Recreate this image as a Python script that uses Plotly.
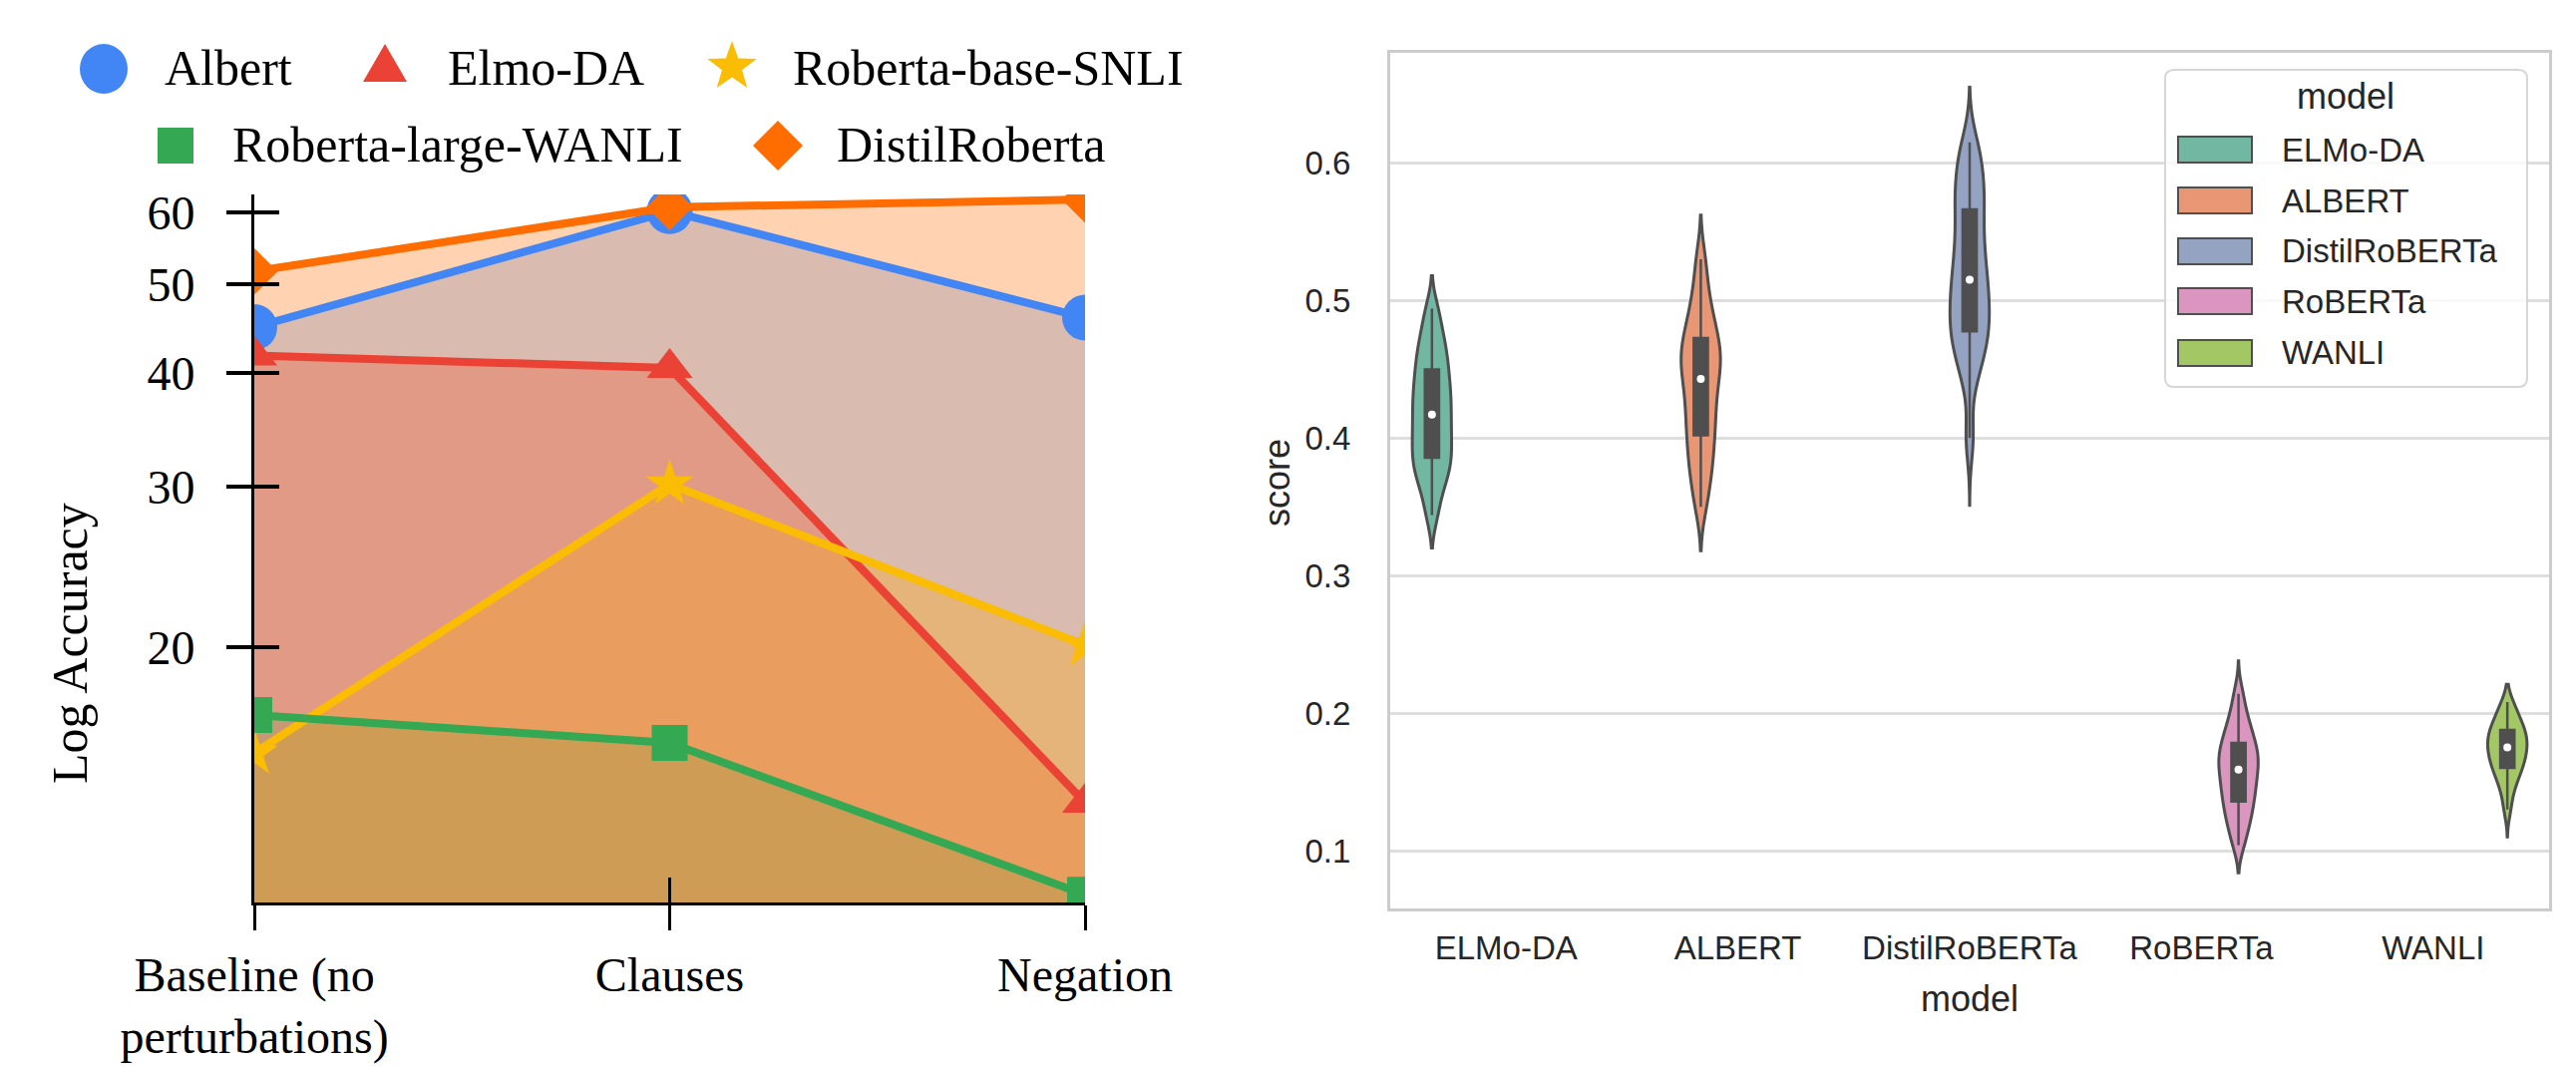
import numpy as np
import plotly.graph_objects as go

# ---------------- data: left chart ----------------
stages = ["Baseline (no<br>perturbations)", "Clauses", "Negation"]
left_models = ["Albert", "Elmo-DA", "Roberta-base-SNLI", "Roberta-large-WANLI", "DistilRoberta"]
albert = [44.9, 60.2, 46.0]
elmo_da = [41.8, 40.5, 13.5]
roberta_base_snli = [15.3, 30.2, 20.1]
roberta_large_wanli = [16.85, 15.7, 10.7]
distilroberta = [51.7, 60.8, 62.0]
left_series = [albert, elmo_da, roberta_base_snli, roberta_large_wanli, distilroberta]
left_yticks = [20, 30, 40, 50, 60]

# ---------------- data: right chart ----------------
right_models = ["ELMo-DA", "ALBERT", "DistilRoBERTa", "RoBERTa", "WANLI"]
scores_elmo_da = [0.344, 0.360, 0.369, 0.376, 0.382, 0.387, 0.393, 0.399, 0.405, 0.411, 0.417,
                  0.423, 0.429, 0.435, 0.441, 0.448, 0.455, 0.462, 0.470, 0.480, 0.494]
scores_albert = [0.350, 0.366, 0.377, 0.386, 0.396, 0.404, 0.412, 0.420, 0.428, 0.436, 0.443,
                 0.449, 0.455, 0.460, 0.465, 0.471, 0.478, 0.486, 0.496, 0.510, 0.530]
scores_distilroberta = [0.400, 0.442, 0.456, 0.466, 0.473, 0.479, 0.486, 0.494, 0.501, 0.508, 0.515,
                        0.524, 0.533, 0.542, 0.553, 0.564, 0.573, 0.582, 0.592, 0.603, 0.615]
scores_roberta = [0.104, 0.114, 0.121, 0.127, 0.132, 0.137, 0.142, 0.146, 0.150, 0.155, 0.159,
                  0.162, 0.166, 0.170, 0.173, 0.177, 0.182, 0.187, 0.193, 0.201, 0.214]
scores_wanli = [0.130, 0.142, 0.149, 0.154, 0.158, 0.161, 0.164, 0.167, 0.170, 0.172, 0.175,
                0.177, 0.180, 0.182, 0.185, 0.187, 0.190, 0.193, 0.197, 0.202, 0.208]
right_series = [scores_elmo_da, scores_albert, scores_distilroberta, scores_roberta, scores_wanli]
right_yticks = [0.1, 0.2, 0.3, 0.4, 0.5, 0.6]

# ---------------- styles ----------------
W, H = 2583, 1070
left_colors = ["#4285F4", "#EA4335", "#FBBC04", "#34A853", "#FF6D01"]
left_symbols = ["circle", "triangle-up", "star", "square", "diamond"]
left_msizes = [46, 40, 36, 36, 36]
fill_alphas = [0.28, 0.3, 0.3, 0.22, 0.3]
violin_colors = ["#71b7a1", "#e99675", "#95a3c3", "#db96c0", "#a2c764"]
violin_bw = [0.012, 0.015, 0.017, 0.010, 0.0085]
violin_span = [[0.320, 0.518], [0.318, 0.562], [0.351, 0.655], [0.084, 0.238], [0.110, 0.221]]
violin_line = "#4f4f4f"
dark_text = "#262626"
SERIF = "Liberation Serif"
SANS = "Liberation Sans"


def px2x(px):
    return px / W


def py2y(py):
    return 1 - py / H


def rgba(hexc, a):
    h = hexc.lstrip("#")
    return "rgba(%d,%d,%d,%.3f)" % (int(h[0:2], 16), int(h[2:4], 16), int(h[4:6], 16), a)


fig = go.Figure()

# fills (base axes)
for name, vals, col, fa in zip(left_models, left_series, left_colors, fill_alphas):
    fig.add_trace(go.Scatter(x=stages, y=vals, mode="none", fill="tozeroy",
                             fillcolor=rgba(col, fa), showlegend=False,
                             hoverinfo="skip", xaxis="x", yaxis="y"))
# lines + markers (overlay axes, drawn above all fills)
for name, vals, col, sym, ms in zip(left_models, left_series, left_colors, left_symbols, left_msizes):
    fig.add_trace(go.Scatter(x=stages, y=vals, mode="lines+markers", name=name,
                             line=dict(color=col, width=8),
                             marker=dict(symbol=sym, size=ms, color=col, line=dict(width=0)),
                             showlegend=False, xaxis="x3", yaxis="y3"))

# violins (seaborn-style hue dodge: 5 slots in 0.8 width)
n = len(right_models)
slot = 0.8 / n
for j, (name, vals, col, bw, sp) in enumerate(zip(right_models, right_series, violin_colors,
                                                  violin_bw, violin_span)):
    pos = j - 0.4 + slot / 2 + j * slot
    fig.add_trace(go.Violin(y=vals, x0=pos, name=name, width=slot * 1.06, scalemode="width",
                            bandwidth=bw, spanmode="manual", span=sp, points=False,
                            fillcolor=col, line=dict(color=violin_line, width=3),
                            box=dict(visible=True, width=0.36, fillcolor=violin_line,
                                     line=dict(color=violin_line, width=2.5)),
                            meanline=dict(visible=False), showlegend=False,
                            xaxis="x2", yaxis="y2"))
    fig.add_trace(go.Scatter(x=[pos], y=[float(np.median(vals))], mode="markers",
                             marker=dict(color="white", size=8), showlegend=False,
                             hoverinfo="skip", xaxis="x2", yaxis="y2"))

left_dom_x = [px2x(255), px2x(1088)]
left_dom_y = [py2y(905), py2y(195)]
left_range = [float(np.log10(10.49)), float(np.log10(62.8))]

axis_common = dict(showgrid=False, zeroline=False, automargin=False)
fig.update_layout(
    width=W, height=H, margin=dict(l=0, r=0, t=0, b=0, pad=0, autoexpand=False),
    paper_bgcolor="white", plot_bgcolor="white",
    font=dict(family=SERIF, color="black"),
    violinmode="overlay",
    showlegend=False,
    xaxis=dict(domain=left_dom_x, anchor="y", type="category", range=[0, 2],
               ticks="outside", ticklen=25, tickwidth=3, tickcolor="black",
               showline=True, linewidth=3, linecolor="black",
               tickfont=dict(family=SERIF, size=48, color="black"), ticklabelstandoff=3,
               **axis_common),
    yaxis=dict(domain=left_dom_y, anchor="x", type="log", range=left_range,
               tickvals=left_yticks, ticktext=[str(v) for v in left_yticks],
               ticks="outside", ticklen=25, tickwidth=3.5, tickcolor="black",
               showline=True, linewidth=3, linecolor="black",
               tickfont=dict(family=SERIF, size=48, color="black"), ticklabelstandoff=22,
               **axis_common),
    xaxis3=dict(overlaying="x", anchor="y3", type="category", range=[0, 2],
                ticks="inside", ticklen=25, tickwidth=3, tickcolor="black",
                showticklabels=False, showline=False, **axis_common),
    yaxis3=dict(overlaying="y", anchor="x3", type="log", range=left_range,
                tickvals=left_yticks, ticks="inside", ticklen=25, tickwidth=3.5,
                tickcolor="black", showticklabels=False, showline=False, **axis_common),
    xaxis2=dict(domain=[px2x(1394), px2x(2556)], anchor="y2", type="linear",
                range=[-0.5, n - 0.5], tickvals=list(range(n)), ticktext=right_models,
                ticks="", showline=True, mirror=True, linecolor="#cccccc", linewidth=3,
                tickfont=dict(family=SANS, size=33, color=dark_text), ticklabelstandoff=8,
                **axis_common),
    yaxis2=dict(domain=[py2y(911), py2y(53)], anchor="x2", range=[0.058, 0.68],
                tickvals=right_yticks, ticktext=[str(v) for v in right_yticks], ticks="",
                showline=True, mirror=True, linecolor="#cccccc", linewidth=3,
                showgrid=True, gridcolor="#dedede", gridwidth=2.5, zeroline=False,
                automargin=False,
                tickfont=dict(family=SANS, size=33, color=dark_text), ticklabelstandoff=30),
)

annotations = []
shapes = []
# axis titles
annotations.append(dict(text="Log Accuracy", x=px2x(70), y=py2y(645), xref="paper", yref="paper",
                        textangle=-90, showarrow=False, font=dict(family=SERIF, size=50, color="black"),
                        xanchor="center", yanchor="middle"))
annotations.append(dict(text="score", x=px2x(1280), y=py2y(484), xref="paper", yref="paper",
                        textangle=-90, showarrow=False, font=dict(family=SANS, size=36, color=dark_text),
                        xanchor="center", yanchor="middle"))
annotations.append(dict(text="model", x=px2x(1975), y=py2y(1001), xref="paper", yref="paper",
                        showarrow=False, font=dict(family=SANS, size=36, color=dark_text),
                        xanchor="center", yanchor="middle"))

# ---- left legend (large markers, two rows) ----
leg_marker_px = [(104, 69), (386, 64), (734, 67), (176, 146), (780, 146)]
leg_text_px = [(163, 68), (447, 68), (793, 68), (231, 145), (837, 145)]
ang = np.pi / 2 + np.arange(10) * np.pi / 5
rad = np.where(np.arange(10) % 2 == 0, 26, 10.5)
star_path = "M " + " L ".join("%.1f,%.1f" % (r * np.cos(a), r * np.sin(a)) for r, a in zip(rad, ang)) + " Z"
sym_paths = {
    "triangle-up": "M -22,-18 L 22,-18 L 0,20 Z",
    "star": star_path,
    "square": "M -18,-18 L 18,-18 L 18,18 L -18,18 Z",
    "diamond": "M 0,25 L 25,0 L 0,-25 L -25,0 Z",
}
for name, col, sym, (mx, my), (tx, ty) in zip(left_models, left_colors, left_symbols, leg_marker_px, leg_text_px):
    base = dict(xref="paper", yref="paper", xsizemode="pixel", ysizemode="pixel",
                xanchor=px2x(mx), yanchor=py2y(my), fillcolor=col, line=dict(width=0))
    if sym == "circle":
        shapes.append(dict(type="circle", x0=-24, x1=24, y0=-25, y1=25, **base))
    else:
        shapes.append(dict(type="path", path=sym_paths[sym], **base))
    annotations.append(dict(text=name, x=px2x(tx), y=py2y(ty), xref="paper", yref="paper",
                            showarrow=False, xanchor="left", yanchor="middle",
                            font=dict(family=SERIF, size=50, color="black")))

# ---- right legend (seaborn style box) ----
bx, by, bw_, bh_, r = 2171, 70, 363, 318, 9
box_path = ("M {r},0 H {a} Q {w},0 {w},-{r} V -{b} Q {w},-{h} {a},-{h} H {r} Q 0,-{h} 0,-{b} V -{r} Q 0,0 {r},0 Z"
            .format(r=r, a=bw_ - r, w=bw_, b=bh_ - r, h=bh_))
shapes.append(dict(type="path", path=box_path, xref="paper", yref="paper", xsizemode="pixel",
                   ysizemode="pixel", xanchor=px2x(bx), yanchor=py2y(by),
                   fillcolor="rgba(255,255,255,0.8)", line=dict(color="#d6d6d6", width=2)))
annotations.append(dict(text="model", x=px2x(2352), y=py2y(97), xref="paper", yref="paper",
                        showarrow=False, xanchor="center", yanchor="middle",
                        font=dict(family=SANS, size=36, color=dark_text)))
entry_y = [150, 201, 252, 302, 354]
for name, col, ey in zip(right_models, violin_colors, entry_y):
    shapes.append(dict(type="rect", xref="paper", yref="paper", x0=px2x(2184), x1=px2x(2258),
                       y0=py2y(ey + 13), y1=py2y(ey - 13), fillcolor=col,
                       line=dict(color=violin_line, width=2)))
    annotations.append(dict(text=name, x=px2x(2286), y=py2y(ey), xref="paper", yref="paper",
                            showarrow=False, xanchor="left", yanchor="middle",
                            font=dict(family=SANS, size=33, color=dark_text)))

fig.update_layout(annotations=annotations, shapes=shapes)

fig.write_html("out.html", include_plotlyjs=True, full_html=True,
               config={"displayModeBar": False},
               post_script="document.body.style.margin='0';document.body.style.overflow='hidden';")
